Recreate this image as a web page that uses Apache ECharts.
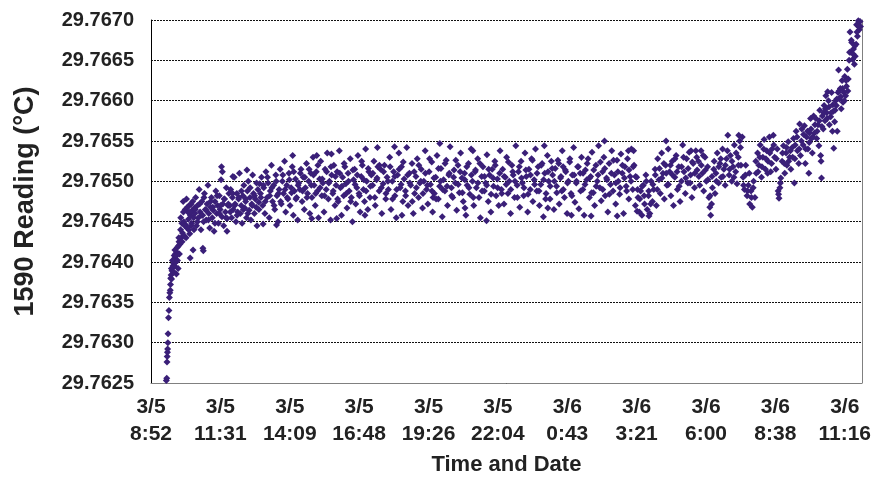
<!DOCTYPE html>
<html>
<head>
<meta charset="utf-8">
<script src="https://cdn.jsdelivr.net/npm/echarts/dist/echarts.min.js"></script>
<style>
html, body { margin: 0; padding: 0; background: #fff; }
#main { width: 874px; height: 481px; }
</style>
</head>
<body>
<div id="main"></div>
<script>
// minutes after 3/5 8:52, reading in °C
var readings = [
[35,29.76253],[36,29.76256],[36.5,29.76276],[37,29.76283],[37.5,29.76288],[38,29.76292],[38.5,29.76300],[39,29.76311],[40,29.76331],[41,29.76340],[42,29.76356],[43,29.76362],[44,29.76365],[45,29.76380],[46,29.76384],[47,29.76379],[48,29.76389],[50,29.76395],[51,29.76402],[52,29.76398],[53,29.76408],[54,29.76395],[55,29.76405],[56,29.76410],[57,29.76400],[58,29.76385],[59,29.76412],[60,29.76418],[61,29.76410],[62,29.76392],[63,29.76420],[64,29.76425],
[66,29.76422],[67.5,29.76440],[69,29.76430],[70.5,29.76448],[72,29.76436],[73.5,29.76475],[75,29.76450],[76.5,29.76432],[78,29.76465],[79.5,29.76446],[81,29.76478],[82.5,29.76442],[84,29.76462],[85.5,29.76453],[87,29.76470],[88.5,29.76435],[89.5,29.76405],[90,29.76458],[91.5,29.76472],[93,29.76448],[94.5,29.76464],[96,29.76415],[97.5,29.76455],[99,29.76467],
[100,29.76460],[102,29.76480],[104,29.76445],[106,29.76470],[108,29.76455],[110,29.76490],[112,29.76462],[114,29.76440],[116,29.76475],[118,29.76458],[118.5,29.76417],[119.5,29.76414],[120,29.76450],[122,29.76485],[124,29.76465],[126,29.76452],[128,29.76472],[130,29.76495],[132,29.76460],[134,29.76442],[136,29.76468],[138,29.76480],[140,29.76455],[142,29.76464],[144,29.76438],[146,29.76475],[148,29.76488],[150,29.76460],[152,29.76470],[154,29.76448],[156,29.76482],[158,29.76465],[160,29.76502],[161,29.76518],[162,29.76456],[163,29.76512],[164,29.76472],[166,29.76445],[168,29.76478],[170,29.76462],[172,29.76492],[173.5,29.76438],[174,29.76454],[176,29.76470],[178,29.76485],
[180,29.76470],[182,29.76490],[184,29.76455],[186,29.76480],[187,29.76506],[188,29.76465],[190,29.76505],[192,29.76472],[194,29.76450],[196,29.76485],[198,29.76462],[200,29.76478],[202,29.76510],[204,29.76460],[206,29.76470],[208,29.76448],[210,29.76482],[212,29.76495],[214,29.76467],[216,29.76475],[218,29.76455],[219,29.76514],[220,29.76488],[222,29.76500],[224,29.76464],[226,29.76480],[228,29.76452],[230,29.76472],[232,29.76508],[234,29.76485],[236,29.76460],[238,29.76478],[240,29.76468],[242,29.76445],[244,29.76490],[246,29.76474],[248,29.76497],
[250,29.76485],[252.5,29.76505],[255,29.76470],[256,29.76447],[257.5,29.76492],[260,29.76460],[262.5,29.76512],[265,29.76480],[267.5,29.76498],[270,29.76455],[272.5,29.76488],[275,29.76520],[277.5,29.76475],[280,29.76495],[282.5,29.76465],[285,29.76508],[286.5,29.76446],[287.5,29.76482],[290,29.76450],[292.5,29.76490],[295,29.76515],[297.5,29.76472],[300,29.76500],[302.5,29.76485],[305,29.76525],[307.5,29.76462],[310,29.76495],[312.5,29.76478],[315,29.76510],[317.5,29.76470],[320,29.76492],[322.5,29.76518],[323.5,29.76532],[325,29.76458],[327.5,29.76488],[330,29.76503],[332.5,29.76480],[335,29.76452],[337.5,29.76498],
[340,29.76490],[342.5,29.76515],[345,29.76475],[347.5,29.76505],[350,29.76465],[352.5,29.76492],[355,29.76522],[357.5,29.76485],[360,29.76500],[362.5,29.76460],[365,29.76510],[367,29.76454],[367.5,29.76480],[370,29.76530],[372.5,29.76495],[375,29.76470],[377.5,29.76512],[378.5,29.76532],[380,29.76488],[382.5,29.76455],[385,29.76503],[387.5,29.76525],[390,29.76482],[392.5,29.76498],[395,29.76462],[397.5,29.76515],[400,29.76490],[402.5,29.76535],[405,29.76478],[407.5,29.76500],[410,29.76452],[412,29.76534],[412.5,29.76508],[415,29.76485],[417.5,29.76520],[420,29.76470],[422.5,29.76495],[424,29.76454],[425,29.76512],[427.5,29.76475],[430,29.76538],[432.5,29.76492],[435,29.76458],[437.5,29.76505],[440,29.76482],[442.5,29.76518],[445,29.76497],[447.5,29.76467],[450,29.76510],[452.5,29.76488],[455,29.76528],[457.5,29.76480],[460,29.76450],[462.5,29.76502],[465,29.76515],[467.5,29.76472],[470,29.76492],[472.5,29.76532],[475,29.76485],[477.5,29.76462],[480,29.76506],[482.5,29.76520],[485,29.76490],[487.5,29.76475],[488.5,29.76458],[490,29.76540],[492.5,29.76500],[495,29.76465],[497.5,29.76512],
[500,29.76480],[503,29.76508],[506,29.76495],[509,29.76525],[512,29.76470],[515,29.76502],[517,29.76542],[518,29.76518],[521,29.76488],[524,29.76515],[527,29.76460],[530,29.76497],[533,29.76520],[536,29.76478],[539,29.76505],[542,29.76490],[545,29.76530],[548,29.76465],[551,29.76500],[554,29.76512],[556,29.76543],[557,29.76482],[560,29.76455],[563,29.76508],[566,29.76535],[569,29.76492],[572,29.76518],[573,29.76458],[575,29.76475],[578,29.76503],[581,29.76488],[584,29.76542],[587,29.76470],[590,29.76510],[593,29.76495],[596,29.76522],[599,29.76460],[602,29.76485],[605,29.76506],[608,29.76528],[611,29.76480],[614,29.76498],[617,29.76515],[620,29.76467],[623,29.76500],[626,29.76538],[629,29.76490],[632,29.76472],[635,29.76512],[638,29.76496],[641,29.76524],[643,29.76462],[644,29.76480],[647,29.76485],[650,29.76505],[653,29.76532],[656,29.76478],[659,29.76494],[659.5,29.76547],[662,29.76516],[665,29.76456],[668,29.76502],[671,29.76488],[674,29.76526],[677,29.76470],[680,29.76508],[683,29.76543],[686,29.76492],[689,29.76480],[692,29.76514],[695,29.76498],[698,29.76464],[701,29.76520],[704,29.76486],[707,29.76535],[710,29.76504],[713,29.76475],[716,29.76510],[717,29.76467],[719,29.76458],[722,29.76495],[725,29.76522],[728,29.76484],[731,29.76540],[734,29.76500],[735,29.76538],[737,29.76470],[740,29.76512],[743,29.76492],[746,29.76528],[749,29.76480],[752,29.76455],[755,29.76506],[758,29.76518],[761,29.76488],[764,29.76498],[766,29.76451],[767,29.76533],[770,29.76475],[773,29.76508],[776,29.76462],[779,29.76515],[782,29.76494],[785,29.76525],[788,29.76482],[791,29.76503],[794,29.76470],[797,29.76538],
[800,29.76490],[803,29.76515],[806,29.76472],[809,29.76505],[812,29.76530],[815,29.76485],[818,29.76500],[821,29.76460],[824,29.76520],[827,29.76508],[830,29.76480],[833,29.76544],[836,29.76495],[839,29.76512],[842,29.76468],[845,29.76525],[848,29.76498],[851,29.76482],[854,29.76535],[857,29.76506],[860,29.76462],[863,29.76515],[866,29.76490],[869,29.76528],[872,29.76475],[875,29.76502],[878,29.76540],[881,29.76488],[884,29.76518],[887,29.76470],[890,29.76496],[893,29.76522],[896,29.76456],[898,29.76544],[899,29.76510],[902,29.76485],[905,29.76532],[906,29.76467],[908,29.76500],[911,29.76478],[914,29.76525],[917,29.76508],[920,29.76465],[923,29.76516],[926,29.76494],[929,29.76526],[932,29.76472],[935,29.76504],[938,29.76488],[939,29.76538],[941,29.76518],[944,29.76480],[947,29.76512],[950,29.76460],[953,29.76500],[956,29.76524],[959,29.76485],[960,29.76458],[962,29.76508],[965,29.76542],[968,29.76474],[971,29.76498],[974,29.76518],[977,29.76466],[980,29.76510],[983,29.76530],[986,29.76490],[989,29.76458],[992,29.76514],[995,29.76502],[998,29.76528],[1001,29.76480],[1004,29.76506],[1005,29.76457],[1007,29.76536],[1010,29.76486],[1013,29.76470],[1016,29.76520],[1019,29.76500],[1022,29.76544],[1025,29.76492],[1028,29.76476],[1031,29.76512],[1034,29.76530],[1035.5,29.76550],[1037,29.76482],[1040,29.76504],[1043,29.76462],[1046,29.76522],[1049,29.76496],[1052,29.76538],[1055,29.76488],[1058,29.76508],[1061,29.76472],[1064,29.76526],[1064.5,29.76457],[1067,29.76500],[1070,29.76484],[1073,29.76534],[1076,29.76510],[1079,29.76460],[1082,29.76518],[1085,29.76494],[1088,29.76528],[1090,29.76538],[1091,29.76478],[1094,29.76506],[1097,29.76540],
[1100,29.76490],[1102,29.76538],[1103,29.76520],[1106,29.76470],[1109,29.76505],[1110,29.76463],[1112,29.76480],[1115,29.76462],[1118,29.76488],[1121,29.76458],[1124,29.76495],[1127,29.76472],[1130,29.76508],[1133,29.76465],[1136,29.76482],[1137,29.76457],[1139,29.76460],[1142,29.76500],[1145,29.76475],[1148,29.76490],[1151,29.76515],[1154,29.76470],[1157,29.76528],[1160,29.76502],[1163,29.76485],[1166,29.76535],[1169,29.76510],[1172,29.76478],[1175,29.76520],[1176,29.76550],[1178,29.76495],[1181,29.76540],[1184,29.76512],[1187,29.76482],[1190,29.76525],[1193,29.76470],[1196,29.76505],[1199,29.76532],[1202,29.76490],[1205,29.76518],[1208,29.76475],[1211,29.76500],[1214,29.76545],[1217,29.76512],[1220,29.76485],[1223,29.76528],[1226,29.76498],[1229,29.76536],[1232,29.76508],[1233,29.76538],[1235,29.76480],[1238,29.76522],[1241,29.76492],[1244,29.76538],[1247,29.76514],
[1250,29.76525],[1253,29.76495],[1256,29.76538],[1259,29.76510],[1262,29.76488],[1265,29.76530],[1268,29.76500],[1271,29.76518],[1274,29.76480],[1276,29.76468],[1278,29.76458],[1280,29.76472],[1282,29.76492],[1285,29.76515],[1288,29.76485],
[1290,29.76510],[1293,29.76535],[1296,29.76498],[1299,29.76522],[1302,29.76505],[1305,29.76540],[1308,29.76515],[1311,29.76495],[1314,29.76528],[1317,29.76557],[1320,29.76508],[1323,29.76532],[1326,29.76500],[1329,29.76518],[1332,29.76545],[1335,29.76512],[1338,29.76497],[1341,29.76530],[1342,29.76557],[1344,29.76550],[1347,29.76520],[1350,29.76555],
[1352,29.76505],[1355,29.76490],[1358,29.76520],[1361,29.76482],[1364,29.76495],[1367,29.76472],[1370,29.76488],[1373,29.76468],[1376,29.76500],[1379,29.76480],
[1382,29.76510],[1385,29.76535],[1388,29.76520],[1391,29.76545],[1394,29.76505],[1397,29.76530],[1400,29.76552],[1403,29.76515],[1406,29.76538],[1409,29.76525],[1412,29.76555],[1415,29.76512],[1418,29.76540],
[1421,29.76557],[1424,29.76530],[1427,29.76515],[1430,29.76540],[1432,29.76488],[1434,29.76479],[1436,29.76492],[1438,29.76504],
[1441,29.76525],[1444,29.76544],[1447,29.76510],[1450,29.76535],[1452,29.76520],[1455,29.76549],[1458,29.76530],[1461,29.76515],[1464,29.76542],[1467,29.76553],[1469,29.76498],[1470,29.76528],[1473,29.76562],[1476,29.76538],[1479,29.76522],
[1481,29.76571],[1483,29.76532],[1486,29.76565],[1489,29.76545],[1492,29.76569],[1494,29.76522],[1497,29.76555],[1500,29.76540],[1502,29.76510],[1504,29.76560],[1506,29.76578],[1508,29.76553],[1510,29.76535],[1513,29.76581],[1515,29.76560],[1518,29.76578],
[1520,29.76553],[1523,29.76570],[1525,29.76544],[1527,29.76588],[1529,29.76532],[1530,29.76525],[1531,29.76504],[1533,29.76581],[1535,29.76565],[1537,29.76594],[1539,29.76575],[1541,29.76606],[1543,29.76585],[1545,29.76611],
[1547,29.76600],[1549,29.76570],[1552,29.76580],[1554,29.76610],[1556,29.76562],[1558,29.76587],[1559,29.76541],[1561,29.76574],[1563,29.76600],[1565,29.76594],[1567,29.76562],[1569,29.76610],
[1570,29.76638],[1572,29.76602],[1574,29.76615],[1576,29.76590],[1578,29.76625],[1580,29.76598],[1582,29.76610],[1584,29.76630],[1586,29.76606],[1588,29.76618],[1590,29.76639],[1592,29.76627],
[1594,29.76650],[1596,29.76685],[1598,29.76660],[1600,29.76672],[1602,29.76651],[1604,29.76664],[1606,29.76645],[1608,29.76655],[1610,29.76670],[1611,29.76694],[1613,29.76680],[1615,29.76699],[1617,29.76688],[1619,29.76698],[1620,29.76692]
];

// further readings from the dense middle of the band
var readingsMore = [
[44.5,29.76372],[46.5,29.76392],[49,29.76402],[51.5,29.76388],[54.5,29.76415],[57.5,29.76408],[60.5,29.76402],[63.5,29.76430],[65,29.76410],[68,29.76455],[71,29.76425],[74,29.76462],[77,29.76445],[80,29.76430],[83,29.76468],[86,29.76440],[89,29.76462],[92,29.76445],[95,29.76475],[98,29.76440],
[101,29.76465],[106,29.76450],[111,29.76472],[116,29.76458],[121,29.76480],[126,29.76464],[131,29.76452],[136,29.76475],[141,29.76468],[146,29.76448],[151,29.76482],[156,29.76460],[159,29.76470],[167,29.76478],[171,29.76455],[176.5,29.76472],[181,29.76462],[186.5,29.76485],[191,29.76470],[196.5,29.76458],[201,29.76480],[206.5,29.76488],[211,29.76465],[216.5,29.76478],[221,29.76460],[226.5,29.76492],[231,29.76470],[236.5,29.76482],[241,29.76498],[246.5,29.76465],
[251,29.76480],[256.5,29.76495],[261,29.76475],[266,29.76505],[271,29.76482],[276,29.76492],[281,29.76470],[286,29.76500],[291,29.76485],[296,29.76475],[301,29.76508],[306,29.76490],[311,29.76480],[316,29.76502],[321,29.76486],[326,29.76512],[331,29.76478],[336,29.76495],
[341,29.76510],[346,29.76488],[351,29.76505],[356,29.76480],[361,29.76515],[366,29.76495],[371,29.76508],[376,29.76485],[381,29.76520],[386,29.76492],[391,29.76503],[396,29.76482],[401,29.76512],[406,29.76498],[411,29.76518],[416,29.76488],[421,29.76506],[426,29.76478],[431,29.76510],[436,29.76494],[441,29.76522],[446,29.76485],[451,29.76500],[456,29.76475],[461,29.76514],[466,29.76496],[471,29.76508],[476,29.76482],[481,29.76525],[486,29.76502],[491,29.76488],[496,29.76516],
[501,29.76494],[506.5,29.76510],[511,29.76480],[516,29.76504],[521.5,29.76520],[526,29.76492],[531,29.76512],[536.5,29.76485],[541,29.76500],[546,29.76518],[551.5,29.76478],[556.5,29.76506],[561,29.76490],[566.5,29.76515],[571,29.76496],[576,29.76524],[581.5,29.76482],[586,29.76508],[591,29.76498],[596.5,29.76475],[601,29.76512],[606,29.76492],[611.5,29.76520],[616,29.76500],[621,29.76485],[626.5,29.76510],[631,29.76495],[636,29.76528],[641.5,29.76488],[646,29.76504],[651,29.76478],[656.5,29.76516],[661,29.76500],[666,29.76490],[671.5,29.76522],[676,29.76494],[681,29.76510],[686.5,29.76482],[691,29.76505],[696,29.76526],
[701.5,29.76496],[706,29.76512],[711,29.76486],[716.5,29.76502],[721,29.76518],[726,29.76492],[731.5,29.76508],[736,29.76480],[741,29.76514],[746.5,29.76498],[751,29.76522],[756,29.76488],[761.5,29.76506],[766.5,29.76495],[771,29.76515],[776.5,29.76484],[781,29.76504],[786,29.76520],[791.5,29.76492],[796,29.76510],
[801,29.76485],[806.5,29.76506],[811,29.76496],[816,29.76524],[821.5,29.76490],[826,29.76512],[831,29.76500],[836.5,29.76480],[841,29.76518],[846,29.76504],[851.5,29.76492],[856,29.76514],[861,29.76484],[866.5,29.76508],[871,29.76526],[876,29.76496],[881.5,29.76510],[886,29.76488],[891,29.76520],[896.5,29.76502],
[901,29.76478],[906.5,29.76512],[911.5,29.76494],[916,29.76516],[921,29.76500],[926.5,29.76486],[931,29.76522],[936,29.76506],[941.5,29.76490],[946,29.76514],[951,29.76498],[956.5,29.76528],[961,29.76482],[966,29.76508],[971.5,29.76500],[976,29.76518],[981,29.76488],[986.5,29.76510],[991,29.76496],[996,29.76522],
[1001.5,29.76504],[1006,29.76486],[1011,29.76514],[1016.5,29.76494],[1021,29.76508],[1026,29.76524],[1031.5,29.76490],[1036,29.76516],[1041,29.76502],[1046.5,29.76484],[1051,29.76510],[1056,29.76526],[1061.5,29.76498],[1066,29.76512],[1071,29.76492],[1076.5,29.76520],[1081,29.76504],[1086,29.76488],[1091.5,29.76514],[1096,29.76500],
[1101,29.76518],[1106.5,29.76506],[1111,29.76490],[1116,29.76478],[1121.5,29.76494],[1126,29.76482],[1131,29.76500],[1136.5,29.76488],[1141,29.76472],[1146,29.76496],[1151.5,29.76508],[1156,29.76490],[1161,29.76516],[1166.5,29.76504],[1171,29.76522],[1176.5,29.76510],[1181.5,29.76496],[1186,29.76520],[1191,29.76508],[1196.5,29.76528],
[1201,29.76512],[1206,29.76494],[1211.5,29.76518],[1216,29.76530],[1221,29.76504],[1226.5,29.76516],[1231,29.76498],[1236,29.76524],[1241.5,29.76510],[1246,29.76530],[1251,29.76506],[1256.5,29.76520],[1261,29.76532],[1266,29.76514],[1271.5,29.76502],[1276.5,29.76482],[1281,29.76506],[1286,29.76525],[1291,29.76500],[1296.5,29.76518],
[1301,29.76528],[1306,29.76506],[1311.5,29.76520],[1316,29.76538],[1321,29.76515],[1326.5,29.76525],[1331,29.76505],[1336,29.76535],[1341.5,29.76520],[1346,29.76542],[1353,29.76495],[1357,29.76508],[1362,29.76488],[1366,29.76510],[1371,29.76480],[1375,29.76492],[1381,29.76525],[1386,29.76512],[1390,29.76530],[1395,29.76518],
[1399,29.76540],[1404,29.76528],[1408,29.76510],[1413,29.76535],[1417,29.76522],[1422,29.76545],[1428,29.76528],[1433,29.76484],[1437,29.76498],[1442,29.76535],[1446,29.76522],[1451,29.76542],[1456,29.76525],[1460,29.76538],[1465,29.76530],[1471,29.76545],[1475,29.76555],[1480,29.76540],[1485,29.76550],[1490,29.76558],
[1495,29.76540],[1499,29.76562],[1503,29.76548],[1507,29.76565],[1511,29.76555],[1516,29.76570],[1521,29.76562],[1526,29.76575],[1532,29.76568],[1536,29.76585],[1540,29.76590],[1544,29.76578],[1548,29.76592],[1553,29.76585],[1557,29.76595],[1562,29.76588],[1566,29.76602],[1571,29.76612],[1575,29.76605],[1579,29.76615],
[1583,29.76600],[1587,29.76625],[1591,29.76612],[1595,29.76660],[1599,29.76675],[1603,29.76658],[1607,29.76668],[1612,29.76685],[1616,29.76692]
];

// x ticks every 158.4 min from 3/5 8:52
var xTickDates = ['3/5','3/5','3/5','3/5','3/5','3/5','3/6','3/6','3/6','3/6','3/6'];
var xTickTimes = ['8:52','11:31','14:09','16:48','19:26','22:04','0:43','3:21','6:00','8:38','11:16'];
var xStep = 158.4;
var yMin = 29.7625, yMax = 29.7670, yStep = 0.0005;

var txt = '#222';
var font = 'Liberation Sans, Arial, sans-serif';

var chart = echarts.init(document.getElementById('main'));
var option = {
    animation: false,
    backgroundColor: '#fff',
    grid: { left: 151, right: 11, top: 20, bottom: 95 },
    xAxis: {
        type: 'value',
        min: 0,
        max: 1623,
        interval: xStep,
        name: 'Time and Date',
        nameLocation: 'middle',
        nameGap: 71,
        nameTextStyle: { fontFamily: font, fontWeight: 'bold', fontSize: 22, color: txt },
        axisLine: { show: true, onZero: false, lineStyle: { color: '#808080', width: 1 } },
        axisTick: { show: false },
        splitLine: { show: false },
        axisLabel: {
            margin: 11,
            lineHeight: 27,
            fontFamily: font,
            fontWeight: 'bold',
            fontSize: 21,
            color: txt,
            showMaxLabel: false,
            formatter: function (v) {
                var i = Math.round(v / xStep);
                if (Math.abs(v - i * xStep) > 0.5 || i >= xTickTimes.length) return '';
                return xTickDates[i] + '\n' + xTickTimes[i];
            }
        }
    },
    yAxis: [{
        type: 'value',
        min: yMin,
        max: yMax,
        interval: yStep,
        name: '1590 Reading (°C)',
        nameLocation: 'middle',
        nameGap: 112,
        nameTextStyle: { fontFamily: font, fontWeight: 'bold', fontSize: 27, color: txt },
        axisLine: { show: true, lineStyle: { color: '#000', width: 1 } },
        axisTick: { show: false },
        splitLine: { show: true, lineStyle: { color: '#111', type: [2, 1], width: 1 } },
        axisLabel: {
            margin: 17,
            fontFamily: font,
            fontWeight: 'bold',
            fontSize: 20,
            color: txt,
            formatter: function (v) { return v.toFixed(4); }
        }
    }, {
        type: 'value',
        position: 'right',
        min: yMin,
        max: yMax,
        interval: yStep,
        axisLine: { show: true, lineStyle: { color: '#808080', width: 1 } },
        axisTick: { show: false },
        axisLabel: { show: false },
        splitLine: { show: false }
    }],
    series: [{
        type: 'scatter',
        data: readings.concat(readingsMore),
        symbol: 'diamond',
        symbolSize: 7,
        itemStyle: { color: '#3a1f78', opacity: 1 }
    }]
};
chart.setOption(option);
</script>
</body>
</html>
